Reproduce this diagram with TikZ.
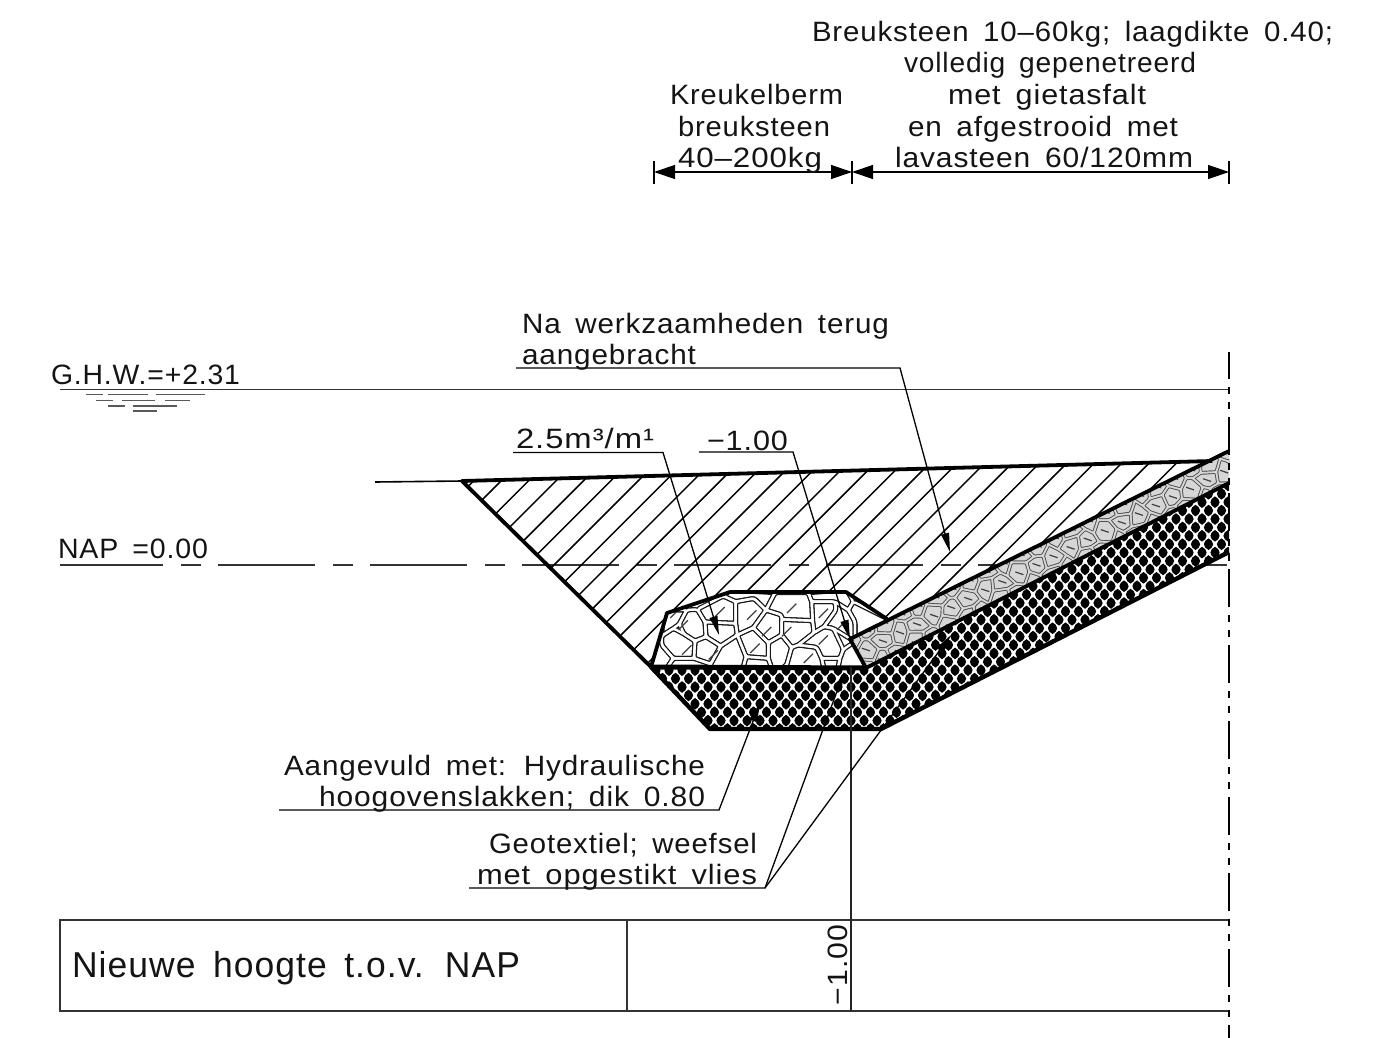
\documentclass[tikz,border=0pt]{standalone}
\usepackage{graphicx}
\usepackage{fontspec}
\setmainfont{Liberation Sans}[LetterSpace=3,WordSpace=1.6]
\usetikzlibrary{arrows.meta}
\pgfmathdeclarefunction{jx}{2}{\pgfmathparse{2.6*sin(7*#1+13*#2)}}
\pgfmathdeclarefunction{jy}{2}{\pgfmathparse{2.6*cos(11*#1-5*#2)}}
\tikzset{
  lbl/.style={inner sep=0pt,outer sep=0pt,anchor=base west,text=black!92,font=\fontsize{28}{30}\selectfont},
  lblbig/.style={lbl,font=\fontsize{36}{38}\selectfont},
  thin line/.style={line width=1.3pt,black!80},
  leader/.style={line width=1.3pt,black,-{Triangle[length=19pt,width=8pt]}},
  dimline/.style={line width=1.3pt,black,{Triangle[length=21pt,width=14pt]}-{Triangle[length=21pt,width=14pt]}},
  tick/.style={line width=2.4pt,black},
  heavy/.style={line width=3.8pt,black,line join=round},
  hatchline/.style={line width=1.5pt,black},
  bigstone/.style={line width=5pt,black!90,rounded corners=2.5pt,line join=round},
  bigstonegap/.style={line width=2.4pt,white,rounded corners=2.5pt,line join=round},
  smallstone/.style={line width=3.4pt,black!68,rounded corners=1.5pt,line join=round},
  smallstonegap/.style={line width=1.5pt,black!16,rounded corners=1.5pt,line join=round},
  stonemark/.style={line width=1.2pt,black!75},
  water/.style={line width=1.3pt,black!65},
  centerline/.style={line width=2.4pt,black,dash pattern=on 38pt off 8pt on 7pt off 8pt on 7pt off 8pt,dash phase=11pt},
  naplong/.style={line width=1.5pt,black!80,dash pattern=on 97pt off 18pt on 20pt off 17pt}
}
\newcommand{\lbl}[6][lbl]{\node[#1] (#2) at (#3,#4) {\resizebox{#5pt}{\height}{#6}};}
\newcommand{\stonelist}{
  {(232,148) -- (310,108) -- (347,125) -- (347,190) -- (255,186)},
  {(347,125) -- (402,115) -- (438,150) -- (400,203) -- (352,225) -- (347,190)},
  {(255,186) -- (347,190) -- (352,225) -- (302,258) -- (258,230)},
  {(178,192) -- (200,150) -- (232,148) -- (255,186) -- (258,230) -- (225,243) -- (192,222)},
  {(225,243) -- (258,230) -- (302,258) -- (272,312) -- (222,295)},
  {(125,228) -- (160,205) -- (192,222) -- (225,243) -- (222,295) -- (160,295) -- (125,255)},
  {(125,228) -- (130,150) -- (200,150) -- (178,192) -- (160,205)},
  {(160,295) -- (222,295) -- (272,312) -- (272,340) -- (130,340)},
  {(125,228) -- (125,255) -- (160,295) -- (130,340) -- (60,340) -- (100,228)},
  {(302,258) -- (352,225) -- (378,290) -- (365,340) -- (272,340) -- (272,312)},
  {(352,225) -- (400,203) -- (445,248) -- (445,295) -- (378,290)},
  {(378,290) -- (445,295) -- (460,340) -- (365,340)},
  {(438,150) -- (485,165) -- (485,225) -- (445,248) -- (400,203)},
  {(445,248) -- (485,225) -- (515,262) -- (500,315) -- (460,340) -- (445,295)},
  {(485,225) -- (485,178) -- (578,182) -- (582,218) -- (535,255) -- (515,262)},
  {(465,98) -- (565,98) -- (575,125) -- (578,182) -- (485,178) -- (485,165) -- (438,150)},
  {(347,125) -- (402,115) -- (438,150) -- (465,98) -- (330,90) -- (310,108)},
  {(575,125) -- (645,125) -- (648,150) -- (612,200) -- (582,218) -- (578,182)},
  {(582,218) -- (612,200) -- (640,205) -- (670,268) -- (660,295) -- (605,295) -- (590,262) -- (535,255)},
  {(515,262) -- (535,255) -- (590,262) -- (605,295) -- (615,340) -- (500,340) -- (500,315)},
  {(645,125) -- (685,150) -- (705,185) -- (705,245) -- (640,205) -- (612,200) -- (648,150)},
  {(565,98) -- (680,90) -- (700,125) -- (685,150) -- (645,125) -- (575,125)},
  {(685,150) -- (700,125) -- (820,185) -- (720,240) -- (705,245) -- (705,185)},
  {(670,268) -- (705,245) -- (720,240) -- (745,340) -- (650,340) -- (660,295)},
  {(605,295) -- (660,295) -- (650,340) -- (615,340)}
}
\begin{document}
\begin{tikzpicture}[x=1pt,y=-1pt]
\useasboundingbox (0,0) rectangle (1394,1038);
% key points
\coordinate (toe) at (462,481);
\coordinate (lead) at (375,482);
\coordinate (topend) at (1212,461);
\coordinate (bermA) at (651,667);
\coordinate (bermB) at (667,613);
\coordinate (bermC) at (730,592);
\coordinate (bermD) at (846,592);
\coordinate (bermE) at (887,619);
\coordinate (rockA) at (850,639);
\coordinate (rockB) at (1229,451);
\coordinate (rockC) at (1229,483);
\coordinate (rockD) at (866,668);
\coordinate (slagA) at (710,729);
\coordinate (slagB) at (881,729);
\coordinate (slagC) at (1229,552);
% horizontal reference lines
\coordinate (ghwL) at (60,389.5); \coordinate (ghwR) at (1229,389.5);
\draw[thin line] (ghwL) -- (ghwR);
\coordinate (napA) at (60,565); \coordinate (napB) at (163,565);
\coordinate (napC) at (181,565); \coordinate (napD) at (201,565);
\coordinate (napE) at (218,565); \coordinate (napF) at (1229,565);
\draw[line width=1.5pt,black!80] (napA) -- (napB) (napC) -- (napD);
\draw[naplong] (napE) -- (napF);
% water marks
\draw[water] (86,394.5) -- (103,394.5) (108,394.5) -- (148,394.5) (156,394.5) -- (205,394.5)
  (96,400.5) -- (113,400.5) (122,400.5) -- (155,400.5) (165,400.5) -- (190,400.5)
  (108,406) -- (125,406) (133,406) -- (177,406) (133,411) -- (157,411);
% hatched fill
\begin{scope}
  \clip (toe) -- (topend) -- (rockA) -- (bermE) -- (bermD) -- (bermC) -- (bermB) -- (bermA) -- cycle;
  \foreach \k in {-22,...,6} {
    \pgfmathsetmacro{\c}{1530+27.4*\k}
    \draw[hatchline] (\c-400,400) -- (\c-800,800);
  }
\end{scope}
% berm stones
\fill[white] (bermA) -- (bermB) -- (bermC) -- (bermD) -- (bermE) -- (rockA) -- (rockD) -- cycle;
\begin{scope}
  \clip (bermA) -- (bermB) -- (bermC) -- (bermD) -- (bermE) -- (rockA) -- (rockD) -- cycle;
  \begin{scope}[shift={(620,560)},x=0.33333pt,y=-0.33333pt]
    \foreach \p in \stonelist { \draw[bigstone] \p -- cycle; }
    \foreach \p in \stonelist { \draw[bigstonegap] \p -- cycle; }
    \foreach \a/\b in {300/155,395/165,440/215,515/145,610/240,565/295,610/160,665/195,405/265,200/270,280/285,500/215,750/210,190/195,165/160}{
      \draw[stonemark] (\a-14,\b+14) -- (\a+14,\b-14);
    }
  \end{scope}
\end{scope}
% slag layer
\fill[white] (bermA) -- (slagA) -- (slagB) -- (slagC) -- (rockC) -- (rockD) -- cycle;
\begin{scope}
  \clip (bermA) -- (slagA) -- (slagB) -- (slagC) -- (rockC) -- (rockD) -- cycle;
  \fill[black] foreach \j in {0,...,30} { foreach \i in {0,...,46} {
     ({643+13*\i+6.5*mod(\j,2)},{485.4+8.4*\j-5.8}) -- ++(3.3,2.5) -- ++(1.3,3.3) -- ++(-1.3,3.3) -- ++(-3.3,2.5) -- ++(-3.3,-2.5) -- ++(-1.3,-3.3) -- ++(1.3,-3.3) -- cycle } };
\end{scope}
% rock layer
\fill[black!16] (rockA) -- (rockB) -- (rockC) -- (rockD) -- cycle;
\begin{scope}
  \clip (rockA) -- (rockB) -- (rockC) -- (rockD) -- cycle;
  \begin{scope}[shift={(rockA)},rotate=26.4]
    \foreach \s in {smallstone,smallstonegap} {
    \foreach \i in {-1,...,23} { \foreach \j in {0,1,2} {
      \pgfmathsetmacro{\cx}{\i*19.05+9.525*mod(\j,2)}
      \pgfmathsetmacro{\cy}{\j*16.5}
      \draw[\s] plot[samples at={0,1,2,3,4,5}] ({\cx+11*cos(30+60*\x)+jx(\cx+11*cos(30+60*\x),\cy+11*sin(30+60*\x))},{\cy+11*sin(30+60*\x)+jy(\cx+11*cos(30+60*\x),\cy+11*sin(30+60*\x))}) -- cycle;
    } } }
    \foreach \i in {-1,...,23} { \foreach \j in {0,1,2} {
      \pgfmathsetmacro{\cx}{\i*19.05+9.525*mod(\j,2)}
      \pgfmathsetmacro{\cy}{\j*16.5}
      \draw[stonemark] ({\cx-3},{\cy-3}) -- ({\cx+3},{\cy+3});
    } }
  \end{scope}
\end{scope}
% heavy outlines
\draw[line width=1.6pt,black] (lead) -- (toe);
\draw[heavy] (topend) -- (toe) -- (bermA);
\draw[heavy] (bermA) -- (bermB) -- (bermC) -- (bermD) -- (bermE);
\draw[heavy] (rockB) -- (rockA) -- (rockD) -- (rockC);
\draw[line width=5pt,black] (bermA) -- (rockD);
\draw[line width=4.4pt,black,line join=round] (bermA) -- (slagA) -- (slagB) -- (slagC);
% table
\coordinate (tTL) at (60,920); \coordinate (tTR) at (1229,920);
\coordinate (tBL) at (60,1011); \coordinate (tBR) at (1229,1011);
\coordinate (tSepT) at (627,920); \coordinate (tSepB) at (627,1011);
\coordinate (probeT) at (851,667); \coordinate (probeB) at (851,1011);
\draw[thin line] (tTR) -- (tTL) -- (tBL) -- (tBR) (tSepT) -- (tSepB);
\draw[line width=1.3pt,black!85] (probeT) -- (probeB);
% centre line
\coordinate (clT) at (1229,352); \coordinate (clB) at (1229,1038);
\draw[centerline] (clT) -- (clB);
% dimension line
\coordinate (dA) at (654,172); \coordinate (dB) at (852,172); \coordinate (dC) at (1229,172);
\coordinate (dAt) at (654,161); \coordinate (dAb) at (654,184);
\coordinate (dBt) at (852,161); \coordinate (dBb) at (852,184);
\coordinate (dCt) at (1229,161); \coordinate (dCb) at (1229,184);
\draw[dimline] (dA) -- (dB);
\draw[dimline] (dB) -- (dC);
\draw[tick] (dAt) -- (dAb) (dBt) -- (dBb) (dCt) -- (dCb);
% leaders
\coordinate (naA) at (516,368); \coordinate (naB) at (900,368); \coordinate (naC) at (950,552);
\draw[leader] (naA) -- (naB) -- (naC);
\coordinate (vA) at (513,452.5); \coordinate (vB) at (663,452.5); \coordinate (vC) at (719,635);
\draw[leader] (vA) -- (vB) -- (vC);
\coordinate (mA) at (699,452); \coordinate (mB) at (793,452); \coordinate (mC) at (850,639);
\draw[leader] (mA) -- (mB) -- (mC);
\coordinate (aA) at (279,810); \coordinate (aB) at (719,810); \coordinate (aC) at (760,703);
\draw[leader] (aA) -- (aB) -- (aC);
\coordinate (gA) at (469,888); \coordinate (gB) at (765,888); \coordinate (gC) at (844,672); \coordinate (gD) at (951,635);
\draw[leader] (gA) -- (gB) -- (gC);
\draw[leader] (gB) -- (gD);
% texts
\lbl{t1}{812}{42}{521}{Breuksteen 10–60kg; laagdikte 0.40;}
\lbl{t2}{904}{73}{292}{volledig gepenetreerd}
\lbl{t3}{948}{105}{198}{met gietasfalt}
\lbl{t4}{908}{136}{270}{en afgestrooid met}
\lbl{t5}{895}{167}{298}{lavasteen 60/120mm}
\lbl{k1}{670}{105}{173}{Kreukelberm}
\lbl{k2}{678}{136}{152}{breuksteen}
\lbl{k3}{678}{167}{144}{40–200kg}
\lbl{n1}{522}{333}{367}{Na werkzaamheden terug}
\lbl{n2}{522}{364}{174}{aangebracht}
\lbl{g1}{51}{384}{189}{G.H.W.=+2.31}
\lbl{g2}{58}{558}{150}{NAP =0.00}
\lbl{v1}{516}{448}{138}{2.5m³/m¹}
\lbl{m1}{707}{450}{81}{−1.00}
\lbl{a1}{284}{775}{421}{Aangevuld met: Hydraulische}
\lbl{a2}{319}{806}{386}{hoogovenslakken; dik 0.80}
\lbl{g3}{489}{853}{268}{Geotextiel; weefsel}
\lbl{g4}{477}{884}{280}{met opgestikt vlies}
\lbl[lblbig]{h1}{72}{977}{448}{Nieuwe hoogte t.o.v. NAP}
\lbl[lbl,rotate=90]{h2}{847}{1005}{80}{−1.00}
\end{tikzpicture}
\end{document}
